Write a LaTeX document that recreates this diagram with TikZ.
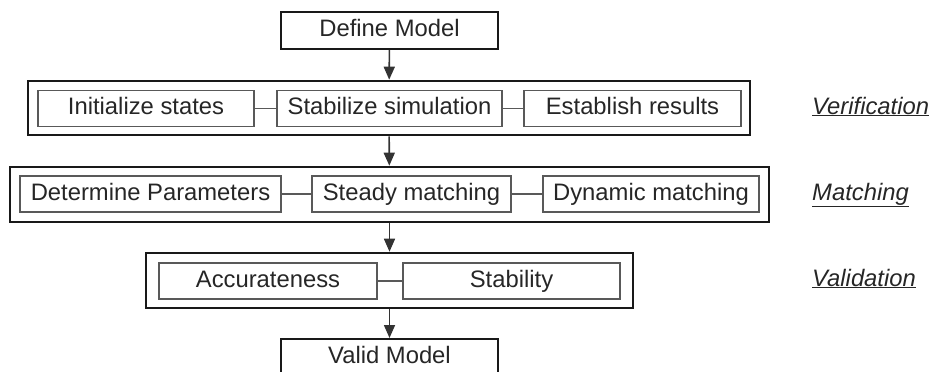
\documentclass[tikz,border=0pt]{standalone}
\usepackage{fontspec}
\setmainfont{Liberation Sans}
\usetikzlibrary{arrows.meta}

\begin{document}
\begin{tikzpicture}[x=1pt, y=-1pt,
    every node/.style={font=\fontsize{23.8}{27}\selectfont, text=black!85, inner sep=0pt,
      text height=16.5pt, text depth=4.5pt},
    stage/.style={draw=black!90, line width=2.6pt},
    task/.style={draw=black!65, line width=1.6pt, minimum height=36pt},
    model/.style={draw=black!90, line width=2pt, minimum width=217pt, minimum height=37pt},
    link/.style={draw=black!65, line width=1.6pt},
    flow/.style={draw=black!80, line width=1.6pt, -{Triangle[length=13pt, width=11pt]}},
    phase/.style={anchor=west, font=\fontsize{23.8}{27}\selectfont\itshape}]
  \useasboundingbox (0,0) rectangle (932,372);

  \node[model] (define) at (389.5,30.5) {Define Model};
  \node[model] (valid) at (389.5,357.5) {Valid Model};

  % verification
  \node[stage, minimum width=722pt, minimum height=54pt] (verif) at (389,108) {};
  \node[task, minimum width=216pt] (init) at (146,108.5) {Initialize states};
  \node[task, minimum width=225pt] (stabsim) at (389.5,108.5) {Stabilize simulation};
  \node[task, minimum width=217pt] (results) at (632.5,108.5) {Establish results};
  \draw[link] (init) -- (stabsim);
  \draw[link] (stabsim) -- (results);

  % matching
  \node[stage, minimum width=759pt, minimum height=55pt] (match) at (389.5,194.5) {};
  \node[task, minimum width=261pt] (params) at (150.5,194) {Determine Parameters};
  \node[task, minimum width=199pt] (steady) at (411.5,194) {Steady matching};
  \node[task, minimum width=216pt] (dynamic) at (651,194) {Dynamic matching};
  \draw[link] (params) -- (steady);
  \draw[link] (steady) -- (dynamic);

  % validation
  \node[stage, minimum width=487pt, minimum height=55pt] (valid-stage) at (389.5,280.5) {};
  \node[task, minimum width=218pt] (accur) at (268,281) {Accurateness};
  \node[task, minimum width=217pt] (stab) at (511.5,281) {Stability};
  \draw[link] (accur) -- (stab);

  \draw[flow] (define) -- (verif);
  \draw[flow] (verif) -- (match);
  \draw[flow] (match) -- (valid-stage);
  \draw[flow] (valid-stage) -- (valid);

  \node[phase] (verif-label) at (812,108) {\underline{Verification}};
  \node[phase] (match-label) at (812,194) {\underline{Matching}};
  \node[phase] (valid-label) at (812,280) {\underline{Validation}};
\end{tikzpicture}
\end{document}
